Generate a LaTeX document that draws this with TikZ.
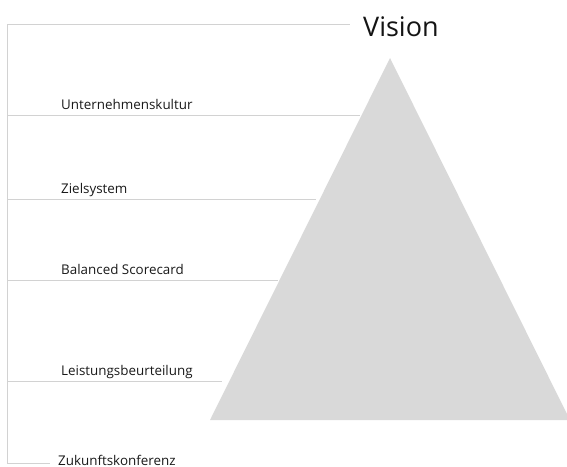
\documentclass[tikz,border=0pt]{standalone}
\usepackage{fontspec}
\setmainfont{Open Sans}
\begin{document}
\begin{tikzpicture}[x=1pt,y=-1pt,
  rule/.style={draw=rulegray,line width=1pt},
  lbl/.style={anchor=base west,inner sep=0pt,font=\fontsize{13.4}{15}\selectfont,text=black!90},
  title/.style={anchor=base west,inner sep=0pt,font=\fontsize{27}{30}\selectfont,text=black!92}]
\definecolor{rulegray}{HTML}{D2D2D2}
\definecolor{trigray}{HTML}{D9D9D9}
\useasboundingbox (0,0) rectangle (567,466);
\begin{scope}
\clip (0,0) rectangle (567,466);
\fill[trigray] (390,58) -- (570,420) -- (210,420) -- cycle;
\coordinate (top) at (7,24);
\coordinate (bot) at (7,463);
\draw[rule] (top) -- (bot);
\coordinate (e0) at (350,24);
\coordinate (l1) at (7,115); \coordinate (e1) at (360,115);
\coordinate (l2) at (7,199); \coordinate (e2) at (316,199);
\coordinate (l3) at (7,280); \coordinate (e3) at (278,280);
\coordinate (l4) at (7,381); \coordinate (e4) at (222,381);
\coordinate (e5) at (50,463);
\draw[rule] (top) -- (e0);
\draw[rule] (l1) -- (e1);
\draw[rule] (l2) -- (e2);
\draw[rule] (l3) -- (e3);
\draw[rule] (l4) -- (e4);
\draw[rule] (bot) -- (e5);
\node[title] (vision) at (363,36) {Vision};
\node[lbl] (t1) at (61,109) {Unternehmenskultur};
\node[lbl] (t2) at (61,193) {Zielsystem};
\node[lbl] (t3) at (61,274) {Balanced Scorecard};
\node[lbl] (t4) at (61,375) {Leistungsbeurteilung};
\node[lbl] (t5) at (58,465) {Zukunftskonferenz};
\end{scope}
\end{tikzpicture}
\end{document}
